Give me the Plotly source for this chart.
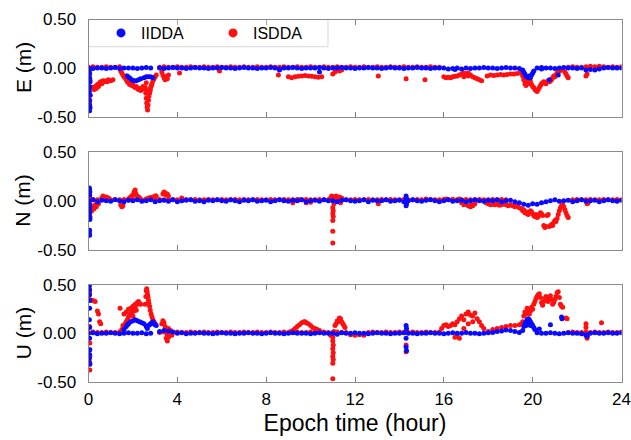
import plotly.graph_objects as go

# ---------------- data ----------------
# regular epoch grid (hours) for the near-zero baseline of each series
BASE_T = [0.0, 0.2, 0.4, 0.6, 0.8, 1.0, 1.2, 1.4, 1.6, 1.8,
          2.0, 2.2, 2.4, 2.6, 2.8, 3.0, 3.2, 3.4, 3.6, 3.8,
          4.0, 4.2, 4.4, 4.6, 4.8, 5.0, 5.2, 5.4, 5.6, 5.8,
          6.0, 6.2, 6.4, 6.6, 6.8, 7.0, 7.2, 7.4, 7.6, 7.8,
          8.0, 8.2, 8.4, 8.6, 8.8, 9.0, 9.2, 9.4, 9.6, 9.8,
          10.0, 10.2, 10.4, 10.6, 10.8, 11.0, 11.2, 11.4, 11.6, 11.8,
          12.0, 12.2, 12.4, 12.6, 12.8, 13.0, 13.2, 13.4, 13.6, 13.8,
          14.0, 14.2, 14.4, 14.6, 14.8, 15.0, 15.2, 15.4, 15.6, 15.8,
          16.0, 16.2, 16.4, 16.6, 16.8, 17.0, 17.2, 17.4, 17.6, 17.8,
          18.0, 18.2, 18.4, 18.6, 18.8, 19.0, 19.2, 19.4, 19.6, 19.8,
          20.0, 20.2, 20.4, 20.6, 20.8, 21.0, 21.2, 21.4, 21.6, 21.8,
          22.0, 22.2, 22.4, 22.6, 22.8, 23.0, 23.2, 23.4, 23.6, 23.8,
          24.0]

# ---- E component ----
E_IIDDA_BASE = [0.0, -0.005, 0.0, 0.0, -0.005, 0.0, 0.005, -0.005, 0.0, 0.0,
                0.0, -0.005, 0.0, 0.005, 0.0, None, 0.0, -0.005, 0.0, 0.005,
                0.0, 0.0, -0.005, 0.0, 0.005, 0.0, 0.0, -0.005, 0.0, 0.0,
                0.005, 0.0, 0.0, -0.005, 0.0, 0.005, 0.0, 0.0, -0.005, 0.0,
                0.0, 0.005, 0.0, -0.01, 0.0, 0.0, 0.005, 0.0, -0.005, 0.0,
                0.0, 0.0, 0.005, 0.0, -0.005, 0.0, 0.0, 0.005, 0.0, 0.0,
                -0.005, 0.0, 0.0, 0.005, 0.0, 0.0, -0.005, 0.0, 0.005, 0.0,
                0.0, -0.005, 0.0, 0.0, 0.005, 0.0, 0.0, -0.005, 0.0, 0.0,
                0.0, -0.01, -0.005, 0.0, -0.01, 0.0, -0.005, 0.0, 0.0, 0.005,
                0.0, 0.0, -0.005, 0.0, 0.005, 0.0, 0.0, -0.005, None, None,
                None, 0.0, 0.005, 0.0, 0.0, -0.005, 0.0, 0.005, 0.0, 0.0,
                -0.005, 0.0, -0.02, -0.015, -0.02, -0.01, 0.0, 0.005, 0.0, 0.0,
                0.0]
E_IIDDA_EXTRA_T = [0.03, 0.05, 0.05, 0.07, 0.05, 0.04, 0.06, 0.05, 0.05, 0.06, 0.05, 0.04,
                   1.75, 1.85, 1.95, 2.05, 2.15, 2.25, 2.35, 2.5, 2.6, 2.7, 2.8, 2.9,
                   19.55, 19.6, 19.65, 19.7, 19.75, 19.8, 19.85, 19.9, 19.95, 20.0, 20.05,
                   20.4, 20.75, 21.15, 10.4, 8.6, 16.5]
E_IIDDA_EXTRA_V = [-0.03, -0.06, -0.1, -0.14, -0.19, -0.24, -0.28, -0.33, -0.38, -0.41, -0.44, -0.2,
                   -0.08, -0.1, -0.12, -0.13, -0.13, -0.12, -0.11, -0.1, -0.09, -0.09, -0.09, -0.1,
                   -0.02, -0.04, -0.06, -0.08, -0.09, -0.1, -0.08, -0.1, -0.07, -0.05, -0.03,
                   -0.01, -0.12, -0.07, -0.04, -0.02, -0.015]

E_ISDDA_BASE = [0.01, 0.015, 0.01, 0.01, 0.015, 0.01, 0.01, 0.015, None, None,
                None, None, None, None, None, None, 0.01, 0.015, 0.01, 0.01,
                0.015, 0.01, 0.01, 0.015, 0.01, 0.01, 0.015, 0.01, 0.01, 0.015,
                0.01, 0.01, 0.015, 0.01, 0.01, 0.015, 0.01, 0.01, 0.015, 0.01,
                0.01, 0.015, 0.01, 0.01, 0.015, 0.01, 0.01, 0.015, 0.01, 0.01,
                0.015, 0.01, 0.01, 0.015, 0.01, 0.01, 0.015, 0.01, 0.01, 0.015,
                0.01, 0.01, 0.015, 0.01, 0.01, 0.015, 0.01, 0.01, 0.015, 0.01,
                0.01, 0.015, 0.01, 0.01, 0.015, 0.01, 0.01, 0.015, 0.01, 0.01,
                None, None, None, None, None, None, None, None, None, None,
                None, None, None, None, None, None, None, None, None, None,
                None, None, None, None, None, None, None, None, 0.01, 0.015,
                0.01, 0.01, 0.015, 0.02, 0.015, 0.02, 0.015, 0.01, 0.015, 0.01,
                0.015]
E_ISDDA_EXTRA_T = [0.05, 0.07, 0.06, 0.08, 0.05, 0.07,
                   0.2, 0.25, 0.3, 0.35, 0.4, 0.45, 0.5, 0.55, 0.6, 0.65, 0.7, 0.8, 0.85, 0.9, 1.0, 1.1,
                   1.45, 1.5, 1.55, 1.6, 1.65, 1.7, 1.75, 1.8, 1.85, 1.9, 1.95, 2.0, 2.05, 2.1, 2.15,
                   2.2, 2.25, 2.3, 2.35, 2.4, 2.45, 1.7, 1.8, 2.0,
                   2.55, 2.58, 2.6, 2.62, 2.64, 2.66, 2.68, 2.7, 2.72, 2.75, 2.78, 2.8, 2.83, 2.86,
                   2.9, 2.95, 3.0, 3.05, 2.6, 2.6,
                   3.3, 3.35, 3.4, 3.45, 3.5, 3.55, 3.6,
                   4.1, 5.9, 8.55,
                   9.0, 9.15, 9.3, 9.45, 9.6, 9.75, 9.9, 10.05, 10.2, 10.35, 10.5,
                   11.0, 11.1, 11.2, 11.3, 11.4,
                   13.05, 14.3, 15.15,
                   16.0, 16.1, 16.2, 16.3, 16.4, 16.5, 16.6, 16.7, 16.8, 16.9, 17.0, 17.1, 17.2,
                   17.3, 17.4, 17.5, 17.6, 17.7, 16.9, 17.1,
                   17.95, 18.1, 18.25, 18.4, 18.55, 18.7, 18.85, 19.0, 19.15, 19.3, 19.45,
                   19.55, 19.6, 19.65, 19.7, 19.75, 19.8, 19.85, 19.9, 19.95, 20.0, 20.05, 20.1,
                   20.15, 20.2, 20.25, 20.3, 20.35, 20.4, 20.45, 20.5, 20.55, 20.6, 20.65, 20.7,
                   20.75, 20.8, 20.85, 20.9, 20.95, 21.0, 21.05, 21.1, 21.15, 21.2, 21.25, 21.3,
                   21.35, 21.45, 21.5, 21.55, 21.6,
                   22.4, 22.45]
E_ISDDA_EXTRA_V = [-0.05, -0.12, -0.2, -0.28, -0.35, -0.4,
                   -0.2, -0.22, -0.19, -0.21, -0.17, -0.19, -0.15, -0.14, -0.16, -0.13, -0.14, -0.13,
                   -0.14, -0.12, -0.13, -0.12,
                   -0.03, -0.05, -0.07, -0.09, -0.1, -0.12, -0.14, -0.15, -0.17, -0.16, -0.18, -0.17,
                   -0.19, -0.2, -0.19, -0.21, -0.22, -0.21, -0.23, -0.22, -0.19, -0.08, -0.11, -0.13,
                   -0.2, -0.26, -0.31, -0.36, -0.4, -0.43, -0.38, -0.33, -0.29, -0.26, -0.23, -0.2,
                   -0.18, -0.16, -0.13, -0.11, -0.09, -0.07, -0.15, -0.22,
                   -0.04, -0.07, -0.1, -0.12, -0.09, -0.11, -0.07,
                   -0.05, -0.03, -0.07,
                   -0.09, -0.1, -0.09, -0.085, -0.08, -0.075, -0.08, -0.085, -0.09, -0.095, -0.09,
                   -0.06, -0.04, -0.02, -0.03, -0.02,
                   -0.08, -0.11, -0.12,
                   -0.09, -0.1, -0.095, -0.1, -0.09, -0.085, -0.08, -0.07, -0.06, -0.05, -0.06, -0.05,
                   -0.07, -0.09, -0.1, -0.11, -0.12, -0.13, -0.09, -0.08,
                   -0.08, -0.07, -0.075, -0.07, -0.065, -0.07, -0.065, -0.06, -0.06, -0.055, -0.05,
                   -0.08, -0.12, -0.16, -0.18, -0.15, -0.13, -0.16, -0.14, -0.17, -0.19, -0.2, -0.22,
                   -0.23, -0.24, -0.22, -0.2, -0.18, -0.16, -0.15, -0.14, -0.15, -0.16, -0.14, -0.13,
                   -0.14, -0.13, -0.12, -0.1, -0.08, -0.09, -0.07, -0.05, -0.04, -0.03, -0.02, -0.01,
                   -0.02, -0.04, -0.06, -0.08, -0.1,
                   -0.08, -0.06]

# ---- N component ----
N_IIDDA_BASE = [0.0, 0.01, -0.01, 0.005, 0.0, -0.005, 0.01, 0.0, -0.01, 0.005,
                0.0, 0.01, -0.005, 0.0, 0.01, -0.01, 0.0, 0.005, -0.005, 0.01,
                -0.01, 0.0, 0.005, 0.01, -0.005, 0.0, -0.01, 0.005, 0.0, 0.01,
                0.0, -0.005, 0.01, 0.0, -0.01, 0.005, 0.0, 0.01, -0.005, 0.0,
                0.005, -0.01, 0.0, 0.01, 0.0, -0.005, 0.005, 0.0, 0.01, -0.01,
                0.0, 0.005, -0.005, 0.01, 0.0, 0.0, -0.01, 0.005, 0.01, 0.0,
                -0.005, 0.0, 0.01, -0.01, 0.005, 0.0, 0.0, 0.01, -0.005, 0.0,
                0.005, -0.01, 0.0, 0.01, 0.0, -0.005, 0.005, 0.01, 0.0, -0.01,
                0.0, 0.01, -0.005, 0.0, 0.005, -0.01, 0.0, 0.01, 0.0, -0.005,
                0.005, 0.0, 0.01, -0.01, 0.0, 0.005, -0.01, -0.02, -0.035, -0.045,
                -0.03, -0.035, -0.02, -0.01, 0.0, 0.01, -0.005, 0.0, 0.005, -0.01,
                0.0, 0.01, -0.005, 0.0, 0.005, -0.01, 0.0, 0.01, 0.0, -0.005,
                0.005]
N_IIDDA_EXTRA_T = [0.04, 0.05, 0.06, 0.05, 0.05, 0.06, 0.05, 0.04, 0.05, 0.06, 0.05, 0.04, 0.05,
                   14.3, 14.3, 14.32, 14.3]
N_IIDDA_EXTRA_V = [0.13, 0.11, 0.09, 0.06, -0.04, -0.07, -0.1, -0.13, -0.16, -0.19, -0.3, -0.33, -0.35,
                   0.05, 0.03, -0.03, -0.05]

N_ISDDA_BASE = [0.01, 0.015, 0.01, 0.015, 0.01, 0.01, 0.015, 0.01, 0.015, 0.01,
                0.01, 0.015, 0.01, 0.01, 0.015, 0.01, 0.015, 0.01, 0.01, 0.015,
                0.01, 0.01, 0.015, 0.01, 0.015, 0.01, 0.01, 0.015, 0.01, 0.01,
                0.015, 0.01, 0.01, 0.015, 0.01, 0.015, 0.01, 0.01, 0.015, 0.01,
                0.01, 0.015, 0.01, 0.01, 0.015, 0.01, 0.01, 0.015, 0.01, 0.015,
                0.01, 0.01, 0.015, 0.01, 0.01, 0.015, 0.01, 0.015, 0.01, 0.01,
                0.015, 0.01, 0.01, 0.015, 0.01, 0.01, 0.015, 0.01, 0.015, 0.01,
                0.01, 0.015, 0.01, 0.01, 0.015, 0.01, 0.01, 0.015, 0.01, 0.01,
                0.015, 0.01, 0.015, 0.01, 0.01, 0.015, 0.01, 0.01, 0.015, 0.01,
                0.01, 0.015, 0.01, 0.015, 0.01, None, None, None, None, None,
                None, None, None, None, None, None, None, None, None, 0.01,
                0.015, 0.01, 0.01, 0.015, 0.01, 0.01, 0.015, 0.01, 0.01, 0.015,
                0.01]
N_ISDDA_EXTRA_T = [0.05, 0.07, 0.06, 0.08, 0.06, 0.07, 0.15, 0.2, 0.25, 0.3, 0.35, 0.45,
                   0.6, 0.65, 0.7, 0.8, 0.9,
                   1.45, 1.5, 1.55,
                   1.8, 1.85, 1.9, 1.95, 2.0, 2.05, 2.1, 2.12, 2.15, 2.2, 2.25, 2.3,
                   2.6, 2.7, 2.8, 2.9, 3.0, 3.05,
                   3.35, 3.4, 3.45, 3.5, 3.55, 3.6,
                   4.2,
                   9.2, 9.5, 9.8, 10.0,
                   10.9, 10.95, 11.0, 11.05, 11.0, 11.02, 11.0, 11.02, 11.0, 11.0, 11.0,
                   11.1, 11.15, 11.2, 11.3, 11.35, 11.4,
                   13.05, 15.2, 16.1, 16.4, 16.7,
                   16.8, 16.9, 17.0, 17.1, 17.2, 17.25, 17.3, 17.4,
                   17.9, 18.0, 18.1, 18.2, 18.3, 18.4, 18.5, 18.6, 18.7, 18.8, 18.9, 19.0, 19.1,
                   19.2, 19.3,
                   19.4, 19.5, 19.55, 19.6, 19.65, 19.7, 19.75, 19.8, 19.85, 19.9, 19.95, 20.0,
                   20.05, 20.1, 20.15, 20.2, 20.25, 20.3, 20.35, 20.4, 20.45, 20.5, 20.55, 20.6,
                   20.65, 20.7, 20.75, 20.8, 20.85, 20.9, 20.95, 21.0, 21.05, 21.1, 21.15, 21.2,
                   21.25, 21.3, 21.35, 21.4, 21.45, 21.5, 21.55, 21.6,
                   22.45, 22.5]
N_ISDDA_EXTRA_V = [0.05, 0.02, -0.03, -0.08, -0.12, -0.17, -0.1, -0.06, -0.08, -0.04, -0.06, -0.03,
                   0.03, 0.05, 0.04, 0.04, 0.03,
                   -0.04, -0.06, -0.05,
                   0.02, 0.03, 0.04, 0.05, 0.06, 0.09, 0.11, 0.08, 0.06, 0.05, 0.04, 0.03,
                   0.02, 0.03, 0.035, 0.04, 0.05, 0.05,
                   0.07, 0.09, 0.08, 0.06, 0.07, 0.05,
                   0.03,
                   -0.02, 0.01, -0.02, -0.015,
                   0.03, 0.05, 0.02, -0.03, -0.07, -0.1, -0.13, -0.16, -0.2, -0.31, -0.43,
                   0.04, 0.05, 0.02, 0.04, -0.02, 0.03,
                   -0.03, 0.02, 0.02, 0.015, 0.02,
                   -0.02, -0.04, -0.03, -0.05, -0.06, -0.04, -0.05, -0.03,
                   -0.02, -0.03, -0.04, -0.035, -0.04, -0.03, -0.045, -0.04, -0.03, -0.04, -0.05,
                   -0.04, -0.05, -0.06, -0.05,
                   -0.07, -0.08, -0.1, -0.09, -0.12, -0.11, -0.13, -0.14, -0.12, -0.1, -0.11, -0.13,
                   -0.15, -0.16, -0.14, -0.17, -0.16, -0.14, -0.12, -0.13, -0.15, -0.25, -0.27, -0.26,
                   -0.15, -0.14, -0.26, -0.25, -0.24, -0.25, -0.22, -0.2, -0.21, -0.18, -0.14, -0.1,
                   -0.07, -0.05, -0.04, -0.06, -0.09, -0.12, -0.15, -0.17,
                   -0.03, -0.02]

# ---- U component ----
U_IIDDA_BASE = [0.0, 0.005, -0.005, 0.0, 0.0, 0.005, 0.0, -0.005, 0.0, 0.005,
                0.0, 0.0, 0.005, -0.005, 0.0, None, 0.02, 0.03, 0.025, 0.015,
                0.0, 0.005, -0.005, 0.0, 0.0, 0.005, 0.0, 0.0, -0.005, 0.0,
                0.005, 0.0, 0.0, -0.005, 0.0, 0.0, 0.005, 0.0, 0.0, -0.005,
                0.0, 0.005, 0.0, 0.0, -0.005, 0.0, 0.005, 0.0, 0.0, 0.0,
                -0.005, 0.0, 0.005, 0.0, 0.0, 0.0, -0.01, 0.005, 0.0, 0.0,
                0.005, 0.0, 0.0, -0.005, 0.0, 0.005, 0.0, 0.0, -0.005, 0.0,
                0.0, 0.005, 0.0, 0.0, -0.005, 0.0, 0.0, 0.005, 0.0, 0.0,
                -0.005, 0.0, 0.005, 0.0, 0.0, 0.01, 0.0, 0.0, -0.005, 0.0,
                0.005, 0.01, 0.02, 0.025, 0.035, 0.03, 0.02, 0.01, None, None,
                None, 0.005, 0.0, 0.0, 0.005, 0.0, -0.005, 0.0, 0.005, 0.0,
                0.0, -0.005, -0.015, 0.0, 0.005, 0.0, 0.0, 0.005, 0.0, 0.0,
                0.005]
U_IIDDA_EXTRA_T = [0.04, 0.05, 0.05, 0.06, 0.05, 0.04, 0.05, 0.05, 0.06, 0.05, 0.04, 0.05, 0.06,
                   1.6, 1.7, 1.75, 1.8, 1.9, 2.0, 2.1, 2.2, 2.3, 2.4, 2.5, 2.6, 2.65, 2.7,
                   2.75, 2.8, 2.85, 2.9, 2.95, 3.0, 3.05,
                   14.3, 14.32, 14.3, 14.3, 14.32,
                   19.55, 19.6, 19.65, 19.7, 19.75, 19.8, 19.85, 19.9, 19.95, 20.0, 20.05, 20.1,
                   19.7, 19.8, 19.9,
                   20.3, 20.8, 21.3, 21.32,
                   22.4, 22.45]
U_IIDDA_EXTRA_V = [0.49, 0.45, 0.4, 0.34, 0.26, 0.14, 0.06, -0.05, -0.17, -0.22, -0.26, -0.31, -0.32,
                   0.04, 0.07, 0.09, 0.1, 0.12, 0.13, 0.14, 0.13, 0.12, 0.11, 0.1, 0.07, 0.05, 0.08,
                   0.09, 0.1, 0.11, 0.12, 0.1, 0.09, 0.08,
                   0.08, 0.05, -0.05, -0.14, -0.18,
                   0.03, 0.07, 0.1, 0.12, 0.14, 0.15, 0.14, 0.12, 0.1, 0.08, 0.06, 0.04,
                   0.08, 0.1, 0.08,
                   0.045, 0.09, 0.17, 0.15,
                   -0.02, -0.03]

U_ISDDA_BASE = [0.01, 0.015, 0.01, 0.01, 0.015, 0.01, 0.01, 0.015, None, None,
                None, None, None, None, None, None, 0.01, 0.015, 0.01, 0.01,
                0.015, 0.01, 0.01, 0.015, 0.01, 0.01, 0.015, 0.01, 0.01, 0.015,
                0.01, 0.01, 0.015, 0.01, 0.01, 0.015, 0.01, 0.01, 0.015, 0.01,
                0.01, 0.015, 0.01, 0.01, 0.015, 0.01, 0.01, 0.015, 0.01, 0.01,
                0.015, 0.01, 0.01, 0.015, 0.01, 0.01, 0.015, 0.01, 0.01, -0.015,
                -0.02, -0.015, -0.02, 0.01, 0.015, 0.01, 0.01, 0.015, 0.01, 0.01,
                0.015, 0.01, 0.01, 0.015, 0.01, 0.01, 0.015, 0.01, 0.01, 0.015,
                None, None, None, None, None, None, None, None, None, None,
                None, None, None, None, None, None, None, None, None, None,
                None, None, None, None, None, None, None, None, 0.01, 0.015,
                0.01, 0.01, 0.015, 0.01, 0.015, 0.01, 0.01, 0.015, 0.01, 0.01,
                0.015]
U_ISDDA_EXTRA_T = [0.05, 0.06, 0.05, 0.06, 0.05, 0.06, 0.05, 0.06,
                   0.2, 0.3, 0.4, 0.45, 0.5, 0.55,
                   1.42,
                   1.5, 1.55, 1.6, 1.6, 1.65, 1.7, 1.7, 1.75, 1.8, 1.8, 1.85, 1.9, 1.9, 1.95, 2.0,
                   2.0, 2.05, 2.1, 2.1, 2.15, 2.2, 2.2, 2.25, 2.3, 2.35,
                   2.55, 2.58, 2.6, 2.62, 2.64, 2.66, 2.68, 2.7, 2.72, 2.75, 2.78, 2.82, 2.86, 2.9,
                   2.95, 3.0,
                   3.3, 3.35, 3.4, 3.45, 3.5, 3.5, 3.55, 3.55, 3.6, 3.6, 3.65, 3.7, 3.75,
                   9.1, 9.2, 9.3, 9.4, 9.5, 9.6, 9.7, 9.75, 9.8, 9.9, 10.0, 10.1, 10.2, 10.3, 10.4,
                   10.9, 11.0, 11.0, 11.02, 11.0, 11.02, 11.0, 11.02, 11.0, 11.0,
                   11.05, 11.1, 11.15, 11.2, 11.25, 11.3, 11.35, 11.4, 11.45, 11.5, 11.55,
                   14.3, 14.3, 14.28,
                   15.9, 16.0, 16.1, 16.2, 16.3, 16.4, 16.5, 16.6, 16.7, 16.8, 16.9, 17.0, 17.1,
                   17.2, 17.3, 17.4, 17.5, 17.6, 17.7, 17.8, 16.5, 16.6, 16.7, 16.9, 17.1, 17.3,
                   18.0, 18.2, 18.4, 18.6, 18.8, 19.0, 19.2, 19.4, 19.5,
                   19.55, 19.6, 19.65, 19.7, 19.75, 19.8, 19.85, 19.9, 19.95, 20.0, 20.05, 20.1,
                   20.15, 20.2, 20.25, 20.3, 20.35, 20.4, 20.45, 20.5, 20.55, 20.6, 20.65, 20.7,
                   20.75, 20.8, 20.85, 20.9, 20.95, 21.0, 21.05, 21.1, 21.15, 21.2, 21.25, 21.3,
                   21.35, 21.5, 21.55,
                   22.4, 22.4, 22.45, 22.45, 23.1]
U_ISDDA_EXTRA_V = [0.43, 0.35, 0.07, -0.1, -0.17, -0.24, -0.3, -0.38,
                   0.34, 0.33, 0.23, 0.2, 0.12, 0.1,
                   0.26,
                   0.04, 0.08, 0.05, 0.2, 0.1, 0.12, 0.22, 0.14, 0.17, 0.25, 0.19, 0.2, 0.26, 0.22,
                   0.18, 0.28, 0.23, 0.27, 0.3, 0.24, 0.3, 0.32, 0.33, 0.31, 0.3,
                   0.3, 0.38, 0.44, 0.46, 0.43, 0.4, 0.37, 0.34, 0.31, 0.28, 0.24, 0.2, 0.17, 0.14,
                   0.12, 0.1,
                   0.1, 0.13, 0.11, 0.07, 0.03, -0.05, -0.02, -0.08, -0.04, 0.05, 0.02, 0.03, -0.02,
                   0.02, 0.03, 0.05, 0.07, 0.09, 0.11, 0.12, 0.12, 0.11, 0.1, 0.08, 0.06, 0.05, 0.04,
                   0.03,
                   -0.02, -0.04, -0.08, -0.12, -0.16, -0.2, -0.24, -0.27, -0.31, -0.47,
                   0.02, 0.08, 0.1, 0.13, 0.12, 0.16, 0.15, 0.12, 0.1, 0.08, 0.06,
                   -0.12, -0.19, 0.02,
                   0.05, 0.08, 0.09, 0.07, 0.08, 0.1, 0.09, 0.12, 0.15, 0.18, 0.14, 0.2, 0.22,
                   0.19, 0.18, 0.21, 0.15, 0.12, 0.08, 0.05, -0.04, -0.03, -0.05, 0.05, 0.1, 0.12,
                   0.02, 0.04, 0.05, 0.06, 0.07, 0.08, 0.08, 0.09, 0.1,
                   0.12, 0.18, 0.22, 0.2, 0.26, 0.24, 0.2, 0.23, 0.27, 0.25, 0.3, 0.33,
                   0.36, 0.38, 0.4, 0.41, 0.37, 0.32, 0.29, 0.33, 0.36, 0.38, 0.35, 0.33,
                   0.37, 0.39, 0.35, 0.3, 0.32, 0.35, 0.38, 0.42, 0.43, 0.37, 0.3, 0.28,
                   0.27, 0.16, 0.15,
                   0.1, 0.06, -0.03, -0.05, 0.11]

PANEL_LABELS = ["E (m)", "N (m)", "U (m)"]
X_TITLE = "Epoch time (hour)"
X_TICKS = [0, 4, 8, 12, 16, 20, 24]
Y_TICKS = [-0.5, 0.0, 0.5]
Y_TICK_TEXT = ["-0.50", "0.00", "0.50"]
SERIES_NAMES = ["IIDDA", "ISDDA"]

# ---------------- styling ----------------
BLUE = "#0a0aff"
RED = "#ff1010"
FONT = "Liberation Sans, Arial, Helvetica, sans-serif"
W, H = 631, 440
X0, X1 = 88.5, 621.5
PANEL_PX = [(19.5, 116.7), (151.7, 250.0), (285.0, 381.7)]

panels = [
    (E_IIDDA_BASE, E_IIDDA_EXTRA_T, E_IIDDA_EXTRA_V, E_ISDDA_BASE, E_ISDDA_EXTRA_T, E_ISDDA_EXTRA_V),
    (N_IIDDA_BASE, N_IIDDA_EXTRA_T, N_IIDDA_EXTRA_V, N_ISDDA_BASE, N_ISDDA_EXTRA_T, N_ISDDA_EXTRA_V),
    (U_IIDDA_BASE, U_IIDDA_EXTRA_T, U_IIDDA_EXTRA_V, U_ISDDA_BASE, U_ISDDA_EXTRA_T, U_ISDDA_EXTRA_V),
]

fig = go.Figure()
MS = 5
for k, (bb, bt, bv, rb, rt, rv) in enumerate(panels):
    suffix = "" if k == 0 else str(k + 1)
    fig.add_trace(go.Scatter(x=BASE_T + rt, y=rb + rv, mode="markers",
                             marker=dict(color=RED, size=MS, line=dict(width=0)),
                             showlegend=False, hoverinfo="skip",
                             xaxis="x" + suffix, yaxis="y" + suffix))
    fig.add_trace(go.Scatter(x=BASE_T + bt, y=bb + bv, mode="markers",
                             marker=dict(color=BLUE, size=MS, line=dict(width=0)),
                             showlegend=False, hoverinfo="skip",
                             xaxis="x" + suffix, yaxis="y" + suffix))

# legend entries
fig.add_trace(go.Scatter(x=[None], y=[None], mode="markers", name=SERIES_NAMES[0],
                         marker=dict(color=BLUE, size=9)))
fig.add_trace(go.Scatter(x=[None], y=[None], mode="markers", name=SERIES_NAMES[1],
                         marker=dict(color=RED, size=9)))

layout = dict(
    template="simple_white",
    width=W, height=H, margin=dict(l=0, r=0, t=0, b=0, autoexpand=False),
    paper_bgcolor="white", plot_bgcolor="white",
    font=dict(family=FONT, color="black"),
    showlegend=True,
    legend=dict(orientation="h", x=101 / W, y=1 - 33 / H, xanchor="left", yanchor="middle",
                bgcolor="rgba(0,0,0,0)", borderwidth=0,
                font=dict(family=FONT, size=16, color="black"),
                entrywidth=67, entrywidthmode="pixels", itemsizing="trace"),
)
for k in range(3):
    suffix = "" if k == 0 else str(k + 1)
    top, bot = PANEL_PX[k]
    xa = dict(
        domain=[X0 / W, X1 / W], range=[0, 24], anchor="y" + suffix,
        tickvals=X_TICKS, ticks="inside", ticklen=5, tickcolor="#7f7f7f", tickwidth=1,
        showticklabels=(k == 2), tickfont=dict(size=17, family=FONT, color="black"),
        showline=True, linecolor="#8c8c8c", linewidth=1, mirror="allticks",
        showgrid=False, zeroline=False, ticklabelstandoff=2, automargin=False,
    )
    if k == 2:
        xa["title"] = dict(text=X_TITLE, standoff=6, font=dict(size=23, family=FONT, color="black"))
    layout["xaxis" + suffix] = xa
    layout["yaxis" + suffix] = dict(
        domain=[1 - bot / H, 1 - top / H], range=[-0.5, 0.5], anchor="x" + suffix,
        tickvals=Y_TICKS, ticktext=Y_TICK_TEXT, ticks="",
        tickfont=dict(size=17, family=FONT, color="black"),
        showline=True, linecolor="#8c8c8c", linewidth=1, mirror=True,
        showgrid=False, zeroline=False, ticklabelstandoff=8, automargin=False,
    )
fig.update_layout(**layout)

# legend frame
fig.add_shape(type="rect", xref="paper", yref="paper",
              x0=X0 / W, x1=328 / W, y0=1 - 46.7 / H, y1=1 - 19.5 / H,
              line=dict(color="#7f7f7f", width=1), fillcolor="white", layer="above")

# panel (y-axis) titles
for k, lab in enumerate(PANEL_LABELS):
    top, bot = PANEL_PX[k]
    fig.add_annotation(text=lab, xref="paper", yref="paper", x=23 / W, y=1 - (top + bot) / 2 / H,
                       xanchor="center", yanchor="middle", textangle=-90, showarrow=False,
                       font=dict(size=21, family=FONT, color="black"))

fig.write_html("out.html")
